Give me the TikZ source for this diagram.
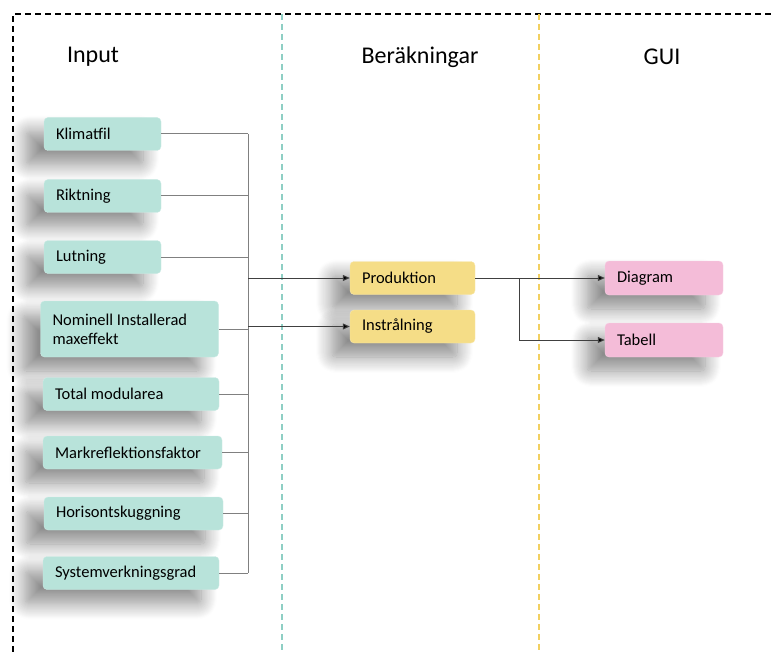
\documentclass[tikz,border=0pt]{standalone}
\usepackage{fontspec}
\setmainfont{Carlito}
\usepackage{xcolor}
\usetikzlibrary{shadows,shadows.blur,arrows.meta}

\definecolor{inputfill}{HTML}{B8E3DA}
\definecolor{calcfill}{HTML}{F5DD87}
\definecolor{guifill}{HTML}{F4BCD8}
\definecolor{inputline}{HTML}{8ECFC4}
\definecolor{calcline}{HTML}{F2D060}

\tikzset{
  box/.style={rectangle, rounded corners=4pt, align=flush left, inner xsep=12pt,
    minimum height=33pt, font=\fontsize{16.5}{19}\selectfont,
    blur shadow={shadow xshift=-18pt, shadow yshift=-14pt,
      shadow blur radius=16pt, shadow blur steps=16, shadow opacity=45}},
  inbox/.style={box, fill=inputfill, draw=inputfill!70!white},
  calcbox/.style={box, fill=calcfill, draw=calcfill!70!white},
  guibox/.style={box, fill=guifill, draw=guifill!70!white},
  title/.style={font=\fontsize{24}{28}\selectfont},
  conn/.style={draw=black!50, line width=1pt},
  arr/.style={draw=black!75, line width=1pt, -{Triangle[length=7pt,width=6pt,fill=black]}}
}

\begin{document}
\begin{tikzpicture}[x=1pt, y=-1pt]
  \useasboundingbox (0,0) rectangle (775,652);

  % Frame and column dividers
  \draw[black, line width=1.5pt, dash pattern=on 6pt off 4pt] (13,652) -- (13,14) -- (775,14);
  \draw[inputline, line width=1.2pt, dash pattern=on 6pt off 4pt] (282,14) -- (282,652);
  \draw[calcline, line width=1.2pt, dash pattern=on 6pt off 4pt] (539,14) -- (539,652);

  % Column titles
  \node[title] (tinput) at (93,57) {Input};
  \node[title] (tcalc) at (420,57) {Beräkningar};
  \node[title] (tgui) at (662,57) {GUI};

  % Input boxes
  \node[inbox, text width=93pt] (klimat) at (102.5,134) {Klimatfil};
  \node[inbox, text width=93pt] (riktning) at (102.5,196) {Riktning};
  \node[inbox, text width=93pt] (lutning) at (102.5,257) {Lutning};
  \node[inbox, text width=154pt, minimum height=56pt] (nominell) at (129.5,329) {Nominell Installerad\\maxeffekt};
  \node[inbox, text width=152pt] (modul) at (131,394) {Total modularea};
  \node[inbox, text width=155pt] (mark) at (132.5,452.5) {Markreflektionsfaktor};
  \node[inbox, text width=155pt] (horisont) at (133.5,513.5) {Horisontskuggning};
  \node[inbox, text width=152pt] (system) at (131,573) {Systemverkningsgrad};

  % Calculations
  \node[calcbox, text width=101pt] (prod) at (412.5,278) {Produktion};
  \node[calcbox, text width=101pt] (instr) at (412.5,326.5) {Instrålning};

  % GUI
  \node[guibox, text width=94pt, minimum height=34pt] (diagram) at (664,278) {Diagram};
  \node[guibox, text width=94pt, minimum height=34pt] (tabell) at (664,340) {Tabell};

  % Bus from the inputs
  \coordinate (bus) at (248,0);
  \coordinate (split) at (519,0);
  \draw[conn] (klimat.east -| bus) -- (system.east -| bus);
  \foreach \n in {klimat,riktning,lutning,nominell,modul,mark,horisont,system}
    \draw[conn] (\n.east) -- (\n.east -| bus);

  % Arrows
  \draw[arr] (bus |- prod.west) -- (prod.west);
  \draw[arr] (bus |- instr.west) -- (instr.west);
  \draw[arr] (prod.east) -- (diagram.west);
  \draw[arr] (prod.east -| split) |- (tabell.west);
\end{tikzpicture}
\end{document}
